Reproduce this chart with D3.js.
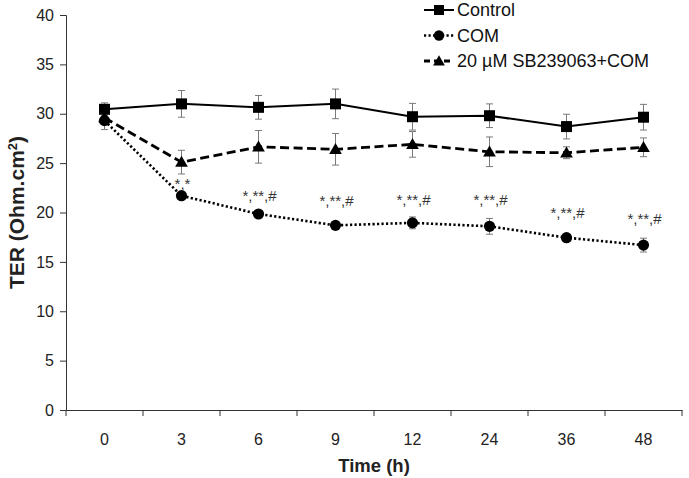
<!DOCTYPE html>
<html>
<head>
<meta charset="utf-8">
<script src="https://cdn.jsdelivr.net/npm/d3@7"></script>
<style>
  html, body { margin: 0; padding: 0; background: #fff; }
  svg { display: block; font-family: Arial, "Liberation Sans", Helvetica, sans-serif; }
</style>
</head>
<body>
<svg id="chart" width="689" height="478"></svg>
<script>
// ---- data ----
const categories = ["0", "3", "6", "9", "12", "24", "36", "48"];
const controlValues = [30.45, 31.0, 30.65, 31.0, 29.7, 29.8, 28.7, 29.65];
const controlErrors = [0.65, 1.35, 1.2, 1.5, 1.35, 1.2, 1.25, 1.3];
const comValues = [29.3, 21.7, 19.85, 18.7, 18.95, 18.6, 17.45, 16.7];
const comErrors = [0.9, 0.3, 0.3, 0.3, 0.6, 0.8, 0.3, 0.7];
const sbValues = [29.6, 25.1, 26.65, 26.4, 26.9, 26.15, 26.05, 26.6];
const sbErrors = [0.5, 1.2, 1.65, 1.6, 1.3, 1.5, 0.6, 0.95];
const sigLabels = ["", "*,*", "*,**,#", "*,**,#", "*,**,#", "*,**,#", "*,**,#", "*,**,#"];
const sigLevels = [null, 22.9, 21.7, 21.2, 21.3, 21.3, 20.0, 19.4];
const yTicks = [0, 5, 10, 15, 20, 25, 30, 35, 40];
const seriesNames = ["Control", "COM", "20 \u00B5M SB239063+COM"];

// ---- layout ----
const svg = d3.select("#chart");
const mLeft = 66, mRight = 682, mTop = 15, mBottom = 410;

const x = d3.scaleBand().domain(categories).range([mLeft, mRight]);
const y = d3.scaleLinear().domain([0, 40]).range([mBottom, mTop]);
const cx = c => x(c) + x.bandwidth() / 2;

const axisColor = "#333";

// Y axis
const yAxis = svg.append("g")
  .attr("transform", `translate(${mLeft},0)`)
  .call(d3.axisLeft(y).tickValues(yTicks).tickSize(6).tickPadding(6));
yAxis.select(".domain").attr("stroke", axisColor);
yAxis.selectAll(".tick line").attr("stroke", axisColor);
yAxis.selectAll(".tick text").attr("fill", "#222").style("font-size", "16px")
  .style("font-family", "Arial, 'Liberation Sans', sans-serif");

// X axis (labels centered in bands, ticks at band boundaries)
const xAxis = svg.append("g")
  .attr("transform", `translate(0,${mBottom})`)
  .call(d3.axisBottom(x).tickSize(0).tickPadding(24).tickSizeOuter(0));
xAxis.select(".domain").attr("stroke", axisColor);
xAxis.selectAll(".tick text").attr("fill", "#222").style("font-size", "16px")
  .style("font-family", "Arial, 'Liberation Sans', sans-serif");
const boundaries = categories.map(c => x(c)).concat([x(categories[categories.length - 1]) + x.bandwidth()]);
xAxis.selectAll("line.bnd").data(boundaries).enter().append("line")
  .attr("class", "bnd")
  .attr("x1", d => d).attr("x2", d => d)
  .attr("y1", 0).attr("y2", 6)
  .attr("stroke", axisColor);

// Axis titles
svg.append("text")
  .attr("x", (mLeft + mRight) / 2).attr("y", 466)
  .attr("text-anchor", "middle").attr("dy", "0.35em")
  .style("font-size", "18.5px").style("font-weight", "bold").attr("fill", "#222")
  .text("Time (h)");

const yt = svg.append("text")
  .attr("transform", `translate(17,${(mTop + mBottom) / 2}) rotate(-90)`)
  .attr("text-anchor", "middle").attr("dy", "0.35em")
  .style("font-size", "21px").style("font-weight", "bold").attr("fill", "#222");
yt.append("tspan").text("TER (Ohm.cm");
yt.append("tspan").attr("baseline-shift", "super").style("font-size", "13px").text("2");
yt.append("tspan").text(")");

// ---- series ----
const series = [
  { name: seriesNames[2], values: sbValues, errors: sbErrors, dash: "9 4.5", width: 2.8, marker: "triangle" },
  { name: seriesNames[1], values: comValues, errors: comErrors, dash: "2.2 2.3", width: 2.6, marker: "circle" },
  { name: seriesNames[0], values: controlValues, errors: controlErrors, dash: null, width: 2, marker: "square" }
];

function drawMarker(g, type, px, py) {
  if (type === "square") {
    g.append("rect").attr("x", px - 5.5).attr("y", py - 5.5).attr("width", 11).attr("height", 11).attr("fill", "#000");
  } else if (type === "circle") {
    g.append("circle").attr("cx", px).attr("cy", py).attr("r", 5.6).attr("fill", "#000");
  } else {
    g.append("path").attr("d", d3.symbol().type(d3.symbolTriangle).size(70)()).attr("transform", `translate(${px},${py + 1})`).attr("fill", "#000");
  }
}

// Error bars first
series.forEach(s => {
  const g = svg.append("g");
  categories.forEach((c, i) => {
    const v = s.values[i], e = s.errors[i];
    const px = cx(c);
    g.append("line").attr("x1", px).attr("x2", px).attr("y1", y(v + e)).attr("y2", y(v - e)).attr("stroke", "#7a7a7a").attr("stroke-width", 1);
    [v + e, v - e].forEach(t => {
      g.append("line").attr("x1", px - 3.5).attr("x2", px + 3.5).attr("y1", y(t)).attr("y2", y(t)).attr("stroke", "#7a7a7a").attr("stroke-width", 1);
    });
  });
});

const line = d3.line().x((d, i) => cx(categories[i])).y(d => y(d));
series.forEach(s => {
  const p = svg.append("path").datum(s.values)
    .attr("d", line).attr("fill", "none").attr("stroke", "#000")
    .attr("stroke-width", s.width);
  if (s.dash) p.attr("stroke-dasharray", s.dash);
  const g = svg.append("g");
  categories.forEach((c, i) => drawMarker(g, s.marker, cx(c), y(s.values[i])));
});

// Significance labels
svg.append("g").selectAll("text").data(categories.filter((c, i) => sigLabels[i])).enter()
  .append("text")
  .attr("x", c => cx(c) + 1)
  .attr("y", c => y(sigLevels[categories.indexOf(c)]))
  .attr("dy", "0.35em").attr("text-anchor", "middle")
  .style("font-size", "15px").attr("fill", "#333")
  .text(c => sigLabels[categories.indexOf(c)]);

// ---- legend ----
const legendRows = [
  { name: seriesNames[0], dash: null, width: 2, marker: "square", y: 10 },
  { name: seriesNames[1], dash: "2.2 2.3", width: 2.6, marker: "circle", y: 35.5 },
  { name: seriesNames[2], dash: "6 4", width: 2.8, marker: "triangle", y: 61 }
];
const lg = svg.append("g");
legendRows.forEach(r => {
  const l = lg.append("line").attr("x1", 424).attr("x2", 454).attr("y1", r.y).attr("y2", r.y)
    .attr("stroke", "#000").attr("stroke-width", r.width);
  if (r.dash) l.attr("stroke-dasharray", r.dash);
  const mg = lg.append("g");
  if (r.marker === "square") mg.append("rect").attr("x", 434).attr("y", r.y - 5).attr("width", 10).attr("height", 10);
  else if (r.marker === "circle") mg.append("circle").attr("cx", 439).attr("cy", r.y).attr("r", 5.2);
  else mg.append("path").attr("d", d3.symbol().type(d3.symbolTriangle).size(60)()).attr("transform", `translate(439,${r.y + 1})`);
  lg.append("text").attr("x", 457).attr("y", r.y).attr("dy", "0.35em")
    .style("font-size", "18px").attr("fill", "#111").text(r.name);
});
</script>
</body>
</html>
